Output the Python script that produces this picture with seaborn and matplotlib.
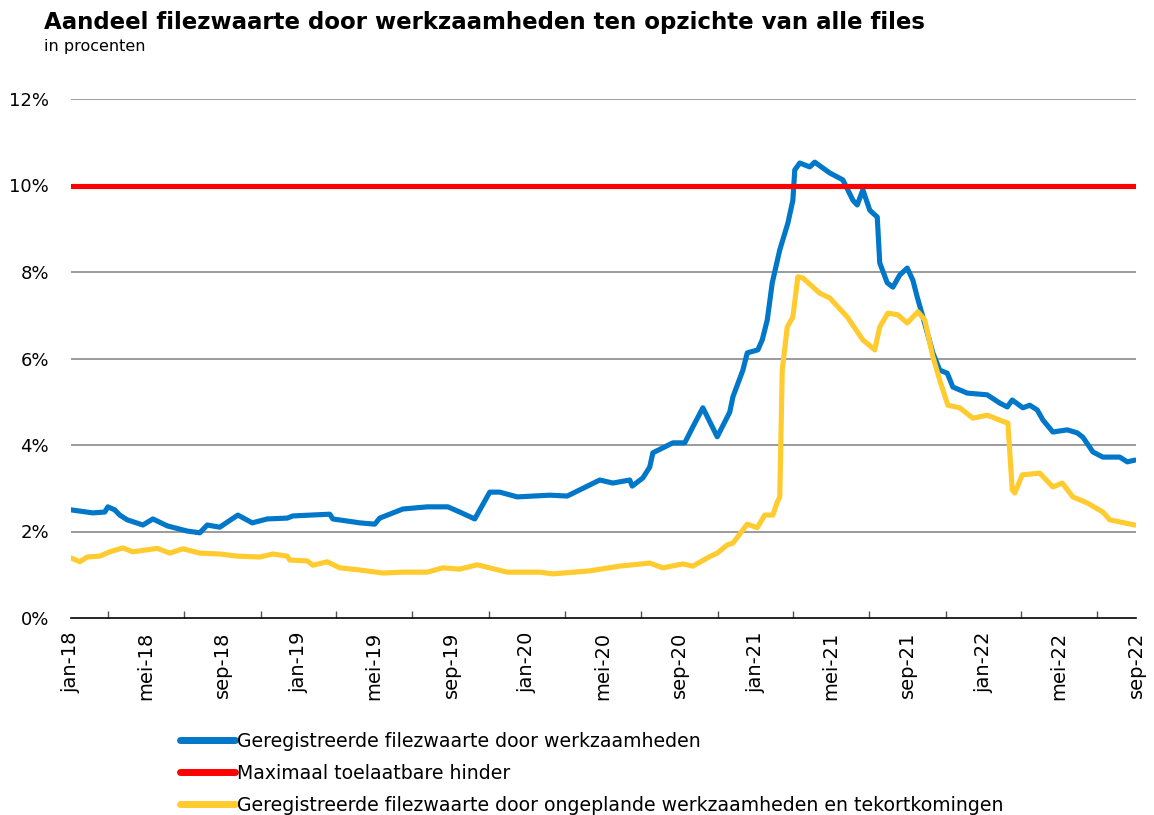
import matplotlib
matplotlib.use("Agg")
import matplotlib.pyplot as plt
import matplotlib.dates as mdates
from matplotlib.ticker import FuncFormatter
import seaborn as sns
import pandas as pd

# ---- data -------------------------------------------------------------
blue_dates = ["2018-01-01", "2018-02-05", "2018-02-24", "2018-03-01", "2018-03-12", "2018-03-20",
              "2018-04-01", "2018-04-26", "2018-05-12", "2018-06-04", "2018-07-06", "2018-07-26",
              "2018-08-07", "2018-08-27", "2018-09-25", "2018-10-18", "2018-11-11", "2018-12-13",
              "2018-12-22", "2019-02-19", "2019-02-24", "2019-04-08", "2019-05-02", "2019-05-10",
              "2019-06-16", "2019-07-25", "2019-08-27", "2019-09-15", "2019-10-09", "2019-11-02",
              "2019-11-18", "2019-12-16", "2020-02-06", "2020-03-05", "2020-04-26", "2020-05-17",
              "2020-06-13", "2020-06-17", "2020-07-04", "2020-07-15", "2020-07-20", "2020-08-21",
              "2020-09-09", "2020-09-22", "2020-10-08", "2020-10-31", "2020-11-20", "2020-11-25",
              "2020-12-11", "2020-12-18", "2021-01-04", "2021-01-11", "2021-01-19", "2021-01-27",
              "2021-02-08", "2021-02-21", "2021-03-01", "2021-03-04", "2021-03-12", "2021-03-28",
              "2021-04-05", "2021-04-29", "2021-05-20", "2021-06-05", "2021-06-12", "2021-06-21",
              "2021-07-02", "2021-07-14", "2021-07-18", "2021-07-30", "2021-08-08", "2021-08-19",
              "2021-08-31", "2021-09-09", "2021-09-16", "2021-09-25", "2021-10-11", "2021-10-22",
              "2021-11-03", "2021-11-12", "2021-12-05", "2022-01-06", "2022-01-26", "2022-02-07",
              "2022-02-15", "2022-03-04", "2022-03-15", "2022-03-27", "2022-04-05", "2022-04-21",
              "2022-05-14", "2022-05-30", "2022-06-08", "2022-06-24", "2022-07-10", "2022-08-06",
              "2022-08-18", "2022-08-30"]
blue_values = [2.50, 2.43, 2.45, 2.57, 2.50, 2.38,
               2.27, 2.15, 2.29, 2.13, 2.01, 1.97,
               2.15, 2.10, 2.38, 2.20, 2.29, 2.31,
               2.36, 2.40, 2.29, 2.20, 2.17, 2.31,
               2.52, 2.57, 2.57, 2.45, 2.29, 2.91,
               2.91, 2.80, 2.84, 2.82, 3.19, 3.12,
               3.19, 3.05, 3.24, 3.49, 3.82, 4.05,
               4.05, 4.42, 4.86, 4.19, 4.76, 5.11,
               5.73, 6.13, 6.20, 6.43, 6.89, 7.75,
               8.51, 9.13, 9.66, 10.36, 10.52, 10.43,
               10.54, 10.29, 10.13, 9.66, 9.55, 9.90,
               9.43, 9.27, 8.21, 7.75, 7.65, 7.93,
               8.09, 7.81, 7.42, 6.96, 6.13, 5.73,
               5.66, 5.34, 5.20, 5.16, 4.97, 4.88,
               5.04, 4.86, 4.92, 4.81, 4.58, 4.30,
               4.35, 4.28, 4.18, 3.84, 3.72, 3.72,
               3.61, 3.65]

yellow_dates = ["2018-01-01", "2018-01-15", "2018-01-27", "2018-02-16", "2018-03-04", "2018-03-25",
                "2018-04-10", "2018-05-19", "2018-06-08", "2018-06-29", "2018-07-26", "2018-08-27",
                "2018-09-24", "2018-10-30", "2018-11-20", "2018-12-13", "2018-12-17", "2019-01-14",
                "2019-01-23", "2019-02-15", "2019-03-07", "2019-04-08", "2019-05-15", "2019-06-16",
                "2019-07-25", "2019-08-19", "2019-09-15", "2019-10-13", "2019-11-30", "2020-01-21",
                "2020-02-11", "2020-04-10", "2020-05-28", "2020-07-15", "2020-08-05", "2020-09-06",
                "2020-09-22", "2020-10-19", "2020-10-31", "2020-11-16", "2020-11-25", "2020-12-18",
                "2021-01-03", "2021-01-15", "2021-01-28", "2021-02-04", "2021-02-08", "2021-02-12",
                "2021-02-20", "2021-03-01", "2021-03-09", "2021-03-17", "2021-04-13", "2021-04-29",
                "2021-05-27", "2021-06-21", "2021-07-10", "2021-07-18", "2021-07-31", "2021-08-16",
                "2021-08-31", "2021-09-17", "2021-09-28", "2021-10-11", "2021-10-22", "2021-11-04",
                "2021-11-23", "2021-12-14", "2022-01-06", "2022-02-03", "2022-02-08", "2022-02-15",
                "2022-02-19", "2022-03-03", "2022-03-31", "2022-04-21", "2022-05-06", "2022-05-23",
                "2022-06-15", "2022-07-10", "2022-07-21", "2022-08-30"]
yellow_values = [1.39, 1.30, 1.41, 1.43, 1.53, 1.62,
                 1.53, 1.61, 1.50, 1.60, 1.50, 1.48,
                 1.43, 1.41, 1.48, 1.43, 1.34, 1.32,
                 1.22, 1.30, 1.16, 1.11, 1.04, 1.06,
                 1.06, 1.16, 1.13, 1.23, 1.06, 1.06,
                 1.02, 1.09, 1.20, 1.27, 1.16, 1.25,
                 1.20, 1.42, 1.50, 1.69, 1.73, 2.17,
                 2.09, 2.38, 2.38, 2.68, 2.80, 5.73,
                 6.73, 6.96, 7.89, 7.86, 7.51, 7.40,
                 6.96, 6.43, 6.20, 6.73, 7.05, 7.01,
                 6.82, 7.08, 6.89, 6.04, 5.50, 4.92,
                 4.86, 4.62, 4.69, 4.53, 4.51, 2.96,
                 2.89, 3.31, 3.35, 3.03, 3.12, 2.80,
                 2.66, 2.45, 2.27, 2.15]

limit_dates = ["2018-01-01", "2022-09-01"]
limit_values = [10, 10]

labels = ["Geregistreerde filezwaarte door werkzaamheden",
          "Maximaal toelaatbare hinder",
          "Geregistreerde filezwaarte door ongeplande werkzaamheden en tekortkomingen"]
y_ticks = [0, 2, 4, 6, 8, 10, 12]
month_names = {1: "jan", 5: "mei", 9: "sep"}

title = "Aandeel filezwaarte door werkzaamheden ten opzichte van alle files"
subtitle = "in procenten"

# ---- figure -----------------------------------------------------------
sns.set_theme(style="white")
plt.rcParams["font.family"] = ["DejaVu Sans"]
plt.rcParams["text.color"] = "black"
plt.rcParams["xtick.color"] = "black"
plt.rcParams["ytick.color"] = "black"

fig = plt.figure(figsize=(11.54, 8.15), dpi=100)
ax = fig.add_axes([71 / 1154, 1 - 618 / 815, (1136 - 71) / 1154, (618 - 99) / 815])

df_blue = pd.DataFrame({"date": pd.to_datetime(blue_dates), "value": blue_values})
df_red = pd.DataFrame({"date": pd.to_datetime(limit_dates), "value": limit_values})
df_yel = pd.DataFrame({"date": pd.to_datetime(yellow_dates), "value": yellow_values})

lw = 3.7
sns.lineplot(data=df_blue, x="date", y="value", ax=ax, color="#0077C8", lw=lw,
             label=labels[0], solid_capstyle="round", solid_joinstyle="round", zorder=3)
sns.lineplot(data=df_red, x="date", y="value", ax=ax, color="#FF0000", lw=lw,
             label=labels[1], solid_capstyle="round", zorder=4)
sns.lineplot(data=df_yel, x="date", y="value", ax=ax, color="#FFCB2F", lw=lw,
             label=labels[2], solid_capstyle="round", solid_joinstyle="round", zorder=5)

ax.set_xlim(pd.Timestamp("2018-01-01"), pd.Timestamp("2022-09-01"))
ax.set_ylim(0, 12)
ax.set_xlabel("")
ax.set_ylabel("")

# grid
for t in y_ticks[1:]:
    ax.axhline(t, color="#808080", lw=1.1, zorder=1)

ax.set_yticks(y_ticks)
ax.set_yticklabels([f"{t}%" for t in y_ticks], fontsize=13, color="black")
ax.tick_params(axis="y", length=0, pad=16)

ax.xaxis.set_major_locator(mdates.MonthLocator(bymonth=[1, 5, 9]))
ax.xaxis.set_minor_locator(mdates.MonthLocator(bymonth=[3, 7, 11]))
ax.xaxis.set_major_formatter(FuncFormatter(
    lambda x, pos: f"{month_names[mdates.num2date(x).month]}-{mdates.num2date(x).strftime('%y')}"))
ax.tick_params(axis="x", which="major", direction="inout", length=10, width=1.2,
               color="black", labelsize=14, labelrotation=90, pad=5, labelcolor="black")
ax.tick_params(axis="x", which="minor", direction="in", length=5, width=1.0, color="#555555", bottom=True)

for s in ["top", "right", "left"]:
    ax.spines[s].set_visible(False)
ax.spines["bottom"].set_color("black")
ax.spines["bottom"].set_linewidth(1.2)
ax.spines["bottom"].set_zorder(6)

# legend
leg = ax.legend(loc="upper left", bbox_to_anchor=(172 / 1154, 1 - 724 / 815),
                bbox_transform=fig.transFigure, frameon=False, fontsize=13.6,
                handlelength=2.95, handletextpad=0.1, labelspacing=0.7, borderaxespad=0)
for h in leg.get_lines():
    h.set_linewidth(5)
for t in leg.get_texts():
    t.set_color("black")

fig.text(44 / 1154, 1 - 22 / 815, title, fontsize=16.5, fontweight="bold", va="center", ha="left",
         color="black")
fig.text(44 / 1154, 1 - 47 / 815, subtitle, fontsize=11.5, va="center", ha="left", color="black")

fig.savefig("out.png", dpi=100)
